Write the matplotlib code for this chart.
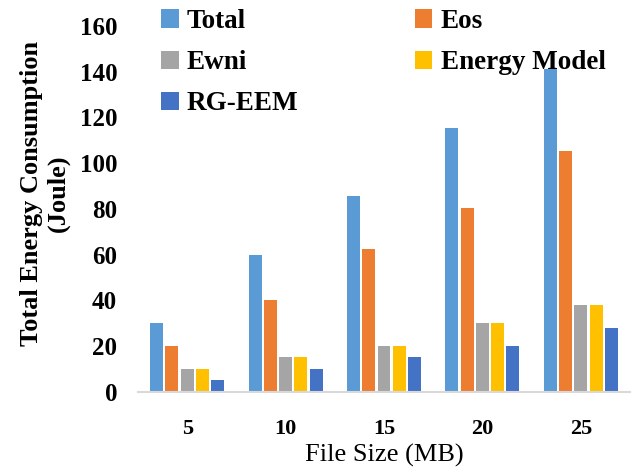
import matplotlib
matplotlib.use('agg')
import matplotlib.pyplot as plt
import numpy as np

# data
sizes = ['5', '10', '15', '20', '25']
total = [30, 60, 85.5, 115.5, 141]
eos = [20, 40, 62.5, 80.5, 105.5]
ewni = [10, 15, 20, 30, 38]
energy_model = [10, 15, 20, 30, 38]
rg_eem = [5, 10, 15, 20, 28]

series = [('Total', total, '#5B9BD5'),
          ('Eos', eos, '#ED7D31'),
          ('Ewni', ewni, '#A5A5A5'),
          ('Energy Model', energy_model, '#FFC000'),
          ('RG-EEM', rg_eem, '#4472C4')]

plt.rcParams['font.family'] = ['Liberation Serif', 'DejaVu Serif']

fig = plt.figure(figsize=(6.36, 4.69), dpi=100)
ax = fig.add_axes([138/636, 1-391.7/469, 492/636, 365.7/469])

x = np.arange(len(sizes))
step = 0.155
width = 0.132
bars = []
for i, (name, vals, col) in enumerate(series):
    bars.append(ax.bar(x + (i - 2) * step, vals, width, color=col, label=name, zorder=2))

ax.set_xlim(-0.5, 4.5)
ax.set_ylim(0, 160)
ax.set_yticks(range(0, 161, 20))
ax.set_xticks(x)
ax.set_xticklabels(sizes)

for s in ['top', 'right', 'left']:
    ax.spines[s].set_visible(False)
ax.spines['bottom'].set_color('#d9d9d9')
ax.spines['bottom'].set_linewidth(1.5)

ax.tick_params(axis='both', length=0)
ax.tick_params(axis='y', pad=15, labelsize=18)
ax.tick_params(axis='x', pad=20, labelsize=16)
for lab in ax.get_xticklabels() + ax.get_yticklabels():
    lab.set_fontweight('bold')

ax.set_xlabel('File Size (MB)', fontsize=19, labelpad=3)
fig.text(45/636, 1-193/469, 'Total Energy Consumption\n(Joule)', rotation=90,
         ha='center', va='center', fontsize=19, fontweight='bold',
         linespacing=1.2)

# legend filled row by row like the original
order = [0, 2, 4, 1, 3]
fig.legend([bars[k] for k in order], [series[k][0] for k in order],
           loc='upper left', bbox_to_anchor=(161/636, 1-9/469), ncol=2,
           frameon=False, prop={'size': 19.5, 'weight': 'bold'},
           handlelength=0.65, handleheight=0.65, handletextpad=0.3,
           columnspacing=4.3, labelspacing=0.6, borderpad=0, borderaxespad=0)

plt.savefig('out.png', dpi=100)
